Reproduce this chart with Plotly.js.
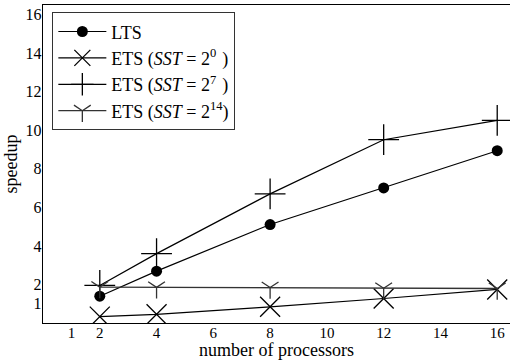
<!DOCTYPE html>
<html>
<head>
<meta charset="utf-8">
<script src="https://cdn.plot.ly/plotly-3.0.1.min.js"></script>
<style>html,body{margin:0;padding:0;background:#fff;}#chart{width:511px;height:360px;}</style>
</head>
<body>
<div id="chart"></div>
<script>
const processors = [2, 4, 8, 12, 16];
const ltsSpeedup = [1.39, 2.69, 5.11, 7.01, 8.94];
const etsSST0 = [0.33, 0.45, 0.84, 1.27, 1.74];
const etsSST7 = [1.95, 3.6, 6.7, 9.51, 10.51];
const etsSST14 = [1.86, 1.85, 1.84, 1.8, 1.79];
const xTicks = [1, 2, 4, 6, 8, 10, 12, 14, 16];
const yTicks = [1, 2, 4, 6, 8, 10, 12, 14, 16];
const seriesNames = [
  'LTS',
  'ETS (<i>SST</i>\u2005=\u20052<sup>0</sup>\u2004)',
  'ETS (<i>SST</i>\u2005=\u20052<sup>7</sup>\u2004)',
  'ETS (<i>SST</i>\u2005=\u20052<sup>14</sup>)'
];

const font = 'Liberation Serif';
const traces = [
  {x: processors, y: ltsSpeedup, name: seriesNames[0], mode: 'lines+markers',
   line: {color: '#000', width: 1.2}, marker: {symbol: 'circle', size: 11, color: '#000'}},
  {x: processors, y: etsSST0, name: seriesNames[1], mode: 'lines+markers',
   line: {color: '#000', width: 1.2}, marker: {symbol: 'x-thin-open', size: 20, line: {color: '#000', width: 1.3}}},
  {x: processors, y: etsSST7, name: seriesNames[2], mode: 'lines+markers',
   line: {color: '#000', width: 1.2}, marker: {symbol: 'cross-thin-open', size: 22, line: {color: '#000', width: 1.3}}},
  {x: processors, y: etsSST14, name: seriesNames[3], mode: 'lines+markers',
   line: {color: '#333', width: 1.3}, marker: {symbol: 'y-down-open', size: 14, line: {color: '#000', width: 1.3}}}
];

const layout = {
  width: 511, height: 360,
  margin: {l: 43, r: 1, t: 5, b: 37},
  paper_bgcolor: '#fff', plot_bgcolor: '#fff',
  font: {family: font, size: 16, color: '#000'},
  showlegend: true,
  legend: {
    x: 0.02, y: 0.977, xanchor: 'left', yanchor: 'top',
    bgcolor: '#fff', bordercolor: '#333', borderwidth: 1,
    font: {family: font, size: 18, color: '#000'},
    tracegroupgap: 0, itemwidth: 48, entrywidth: 200, entrywidthmode: 'pixels'
  },
  xaxis: {
    range: [0, 16.45], tickvals: xTicks, ticktext: xTicks.map(String),
    showline: true, linecolor: '#000', linewidth: 1.3, mirror: true,
    ticks: '', showgrid: false, zeroline: false,
    tickfont: {family: font, size: 15}, ticklabelstandoff: -4,
    title: {text: 'number of processors', font: {family: font, size: 18}, standoff: 1}
  },
  yaxis: {
    range: [0, 16.5], tickvals: yTicks, ticktext: yTicks.map(String),
    showline: true, linecolor: '#000', linewidth: 1.3,
    ticks: '', showgrid: false, zeroline: false,
    tickfont: {family: font, size: 16}, ticklabelstandoff: -3,
    title: {text: 'speedup', font: {family: font, size: 18}, standoff: 3}
  },
  yaxis2: {
    overlaying: 'y', matches: 'y', side: 'right', range: [0, 16.5],
    tickvals: yTicks, showticklabels: false, ticks: 'inside', ticklen: 4, tickcolor: '#888',
    showline: true, linecolor: '#999', linewidth: 1, showgrid: false, zeroline: false
  }
};

Plotly.newPlot('chart', traces, layout, {displayModeBar: false, staticPlot: true});
</script>
</body>
</html>
